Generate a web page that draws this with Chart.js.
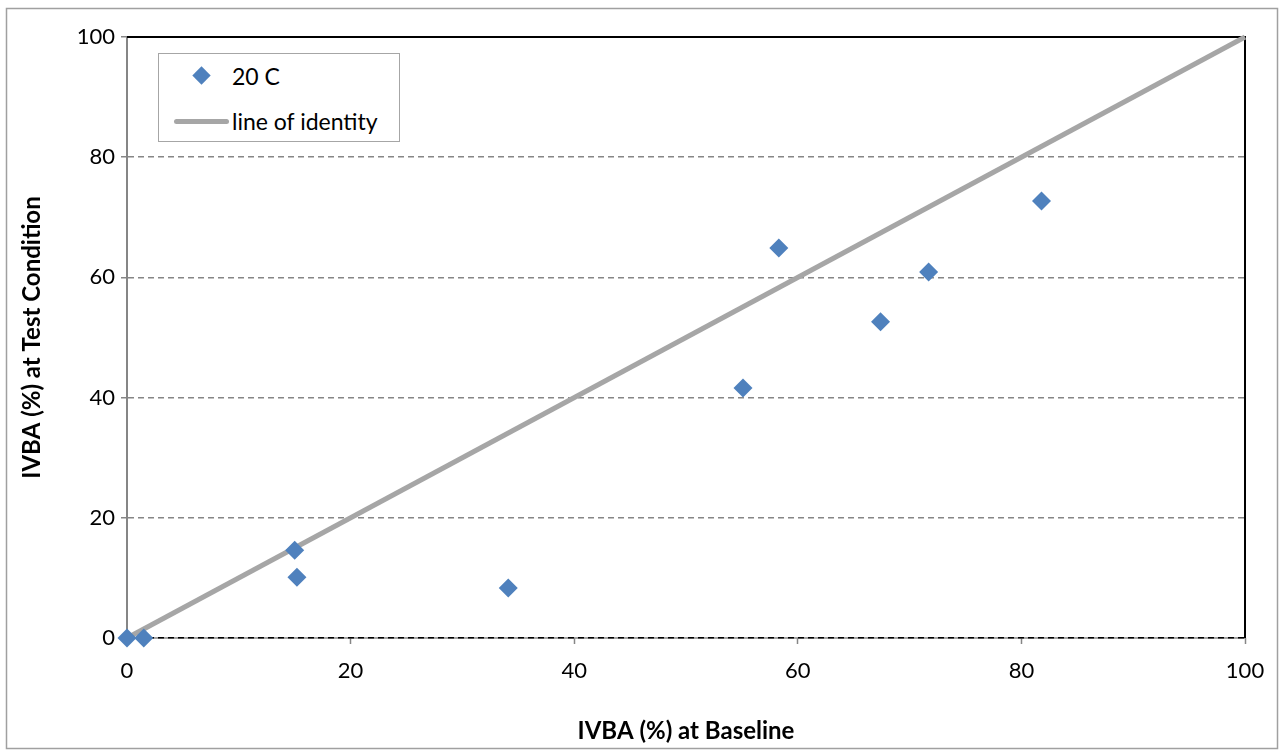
<!DOCTYPE html>
<html>
<head>
<meta charset="utf-8">
<script src="https://cdn.jsdelivr.net/npm/chart.js@4.4.0/dist/chart.umd.min.js"></script>
<style>
    html, body { margin: 0; padding: 0; background: #fff; }
    #wrap { position: relative; width: 1279px; height: 750px; }
    #legend {
        position: absolute; left: 158px; top: 53px; width: 242px; height: 89px;
        border: 1px solid #a6a6a6; background: #fff; box-sizing: border-box;
        font-family: Lato, sans-serif; font-size: 23px; color: #000;
    }
    .row { display: flex; align-items: center; height: 30px; position: absolute; left: 0; }
    .icon { width: 73px; height: 30px; position: relative; flex: none; }
    .diamond { position: absolute; left: 36px; top: 8px; width: 13px; height: 13px; background: #4f81bd; transform: rotate(45deg); }
    .bar { position: absolute; left: 15px; top: 13px; width: 55px; height: 5px; border-radius: 3px; background: #a6a6a6; }
    .txt { white-space: nowrap; line-height: 30px; }
</style>
</head>
<body>
<div id="wrap">
    <canvas id="chart" width="1279" height="750"></canvas>
    <div id="legend">
        <div class="row" style="top:7px"><div class="icon"><div class="diamond"></div></div><div class="txt" id="lab0"></div></div>
        <div class="row" style="top:52px"><div class="icon"><div class="bar"></div></div><div class="txt" id="lab1"></div></div>
    </div>
</div>
<script>
// IVBA at baseline vs at test condition (20 C)
const baselineX = [0, 1.5, 15.0, 15.2, 34.1, 55.1, 58.3, 67.4, 71.7, 81.8];
const testY = [0, 0, 14.6, 10.1, 8.3, 41.6, 64.9, 52.6, 60.9, 72.7];
const identityX = [0, 100];
const identityY = [0, 100];
const tickValues = [0, 20, 40, 60, 80, 100];
const seriesNames = ['20 C', 'line of identity'];

const pts = baselineX.map((x, i) => ({ x: x, y: testY[i] }));
const idLine = identityX.map((x, i) => ({ x: x, y: identityY[i] }));

document.getElementById('lab0').textContent = seriesNames[0];
document.getElementById('lab1').textContent = seriesNames[1];

// outer border, grey axis line under the dashed zero line, black frame top/right
const framePlugin = {
    id: 'frame',
    beforeDraw(chart) {
        const ctx = chart.ctx;
        const a = chart.chartArea;
        ctx.save();
        ctx.strokeStyle = '#a0a0a0';
        ctx.lineWidth = 1.5;
        ctx.strokeRect(6.5, 8.5, 1271, 740);
        ctx.strokeStyle = '#868686';
        ctx.lineWidth = 1.5;
        ctx.beginPath();
        ctx.moveTo(a.left, a.bottom);
        ctx.lineTo(a.right, a.bottom);
        ctx.stroke();
        ctx.restore();
    },
    beforeDatasetsDraw(chart) {
        const ctx = chart.ctx;
        const a = chart.chartArea;
        ctx.save();
        ctx.strokeStyle = '#000';
        ctx.lineWidth = 2;
        ctx.beginPath();
        ctx.moveTo(a.left, a.top);
        ctx.lineTo(a.right, a.top);
        ctx.lineTo(a.right, a.bottom);
        ctx.stroke();
        ctx.restore();
    }
};

const ctx = document.getElementById('chart').getContext('2d');
const chart = new Chart(ctx, {
    type: 'scatter',
    data: {
        datasets: [{
            label: seriesNames[0],
            data: pts,
            pointStyle: 'rectRot',
            pointRadius: 9.5,
            pointHoverRadius: 9.5,
            backgroundColor: '#4f81bd',
            borderColor: '#4f81bd',
            borderWidth: 0,
            clip: false,
            order: 1
        }, {
            label: seriesNames[1],
            type: 'line',
            data: idLine,
            showLine: true,
            borderColor: '#a6a6a6',
            borderWidth: 5,
            pointRadius: 0,
            fill: false,
            clip: false,
            order: 2
        }]
    },
    options: {
        responsive: false,
        animation: false,
        layout: { padding: { left: 0, top: 37, right: 34, bottom: 0 } },
        plugins: {
            legend: { display: false },
            tooltip: { enabled: false }
        },
        scales: {
            x: {
                type: 'linear',
                min: 0, max: 100,
                afterFit(scale) { scale.height = 112; },
                afterBuildTicks(scale) { scale.ticks = tickValues.map(v => ({ value: v })); },
                grid: { drawOnChartArea: false, drawTicks: true, tickLength: 6, tickColor: '#868686', tickWidth: 1.5 },
                border: { display: false },
                ticks: {
                    padding: 14,
                    color: '#000',
                    font: { family: 'Lato', size: 22 }
                },
                title: {
                    display: true,
                    text: 'IVBA (%) at Baseline',
                    color: '#000',
                    font: { family: 'Lato', size: 24, weight: 'bold' },
                    padding: { top: 0, bottom: 4 }
                }
            },
            y: {
                type: 'linear',
                min: 0, max: 100,
                afterFit(scale) { scale.width = 127; },
                afterBuildTicks(scale) { scale.ticks = tickValues.map(v => ({ value: v })); },
                grid: {
                    color: c => c.tick && c.tick.value === 0 ? '#000' : (c.tick && c.tick.value === 100 ? 'rgba(0,0,0,0)' : '#868686'),
                    lineWidth: 1.5,
                    drawTicks: true,
                    tickLength: 6,
                    tickColor: '#868686',
                    tickWidth: 1.5
                },
                border: { display: true, color: '#868686', width: 2, dash: [6, 4] },
                ticks: {
                    padding: 6,
                    color: '#000',
                    font: { family: 'Lato', size: 22 }
                },
                title: {
                    display: true,
                    text: 'IVBA (%) at Test Condition',
                    color: '#000',
                    font: { family: 'Lato', size: 24, weight: 'bold' },
                    padding: { top: 18, bottom: 0 }
                }
            }
        }
    },
    plugins: [framePlugin]
});
</script>
</body>
</html>
